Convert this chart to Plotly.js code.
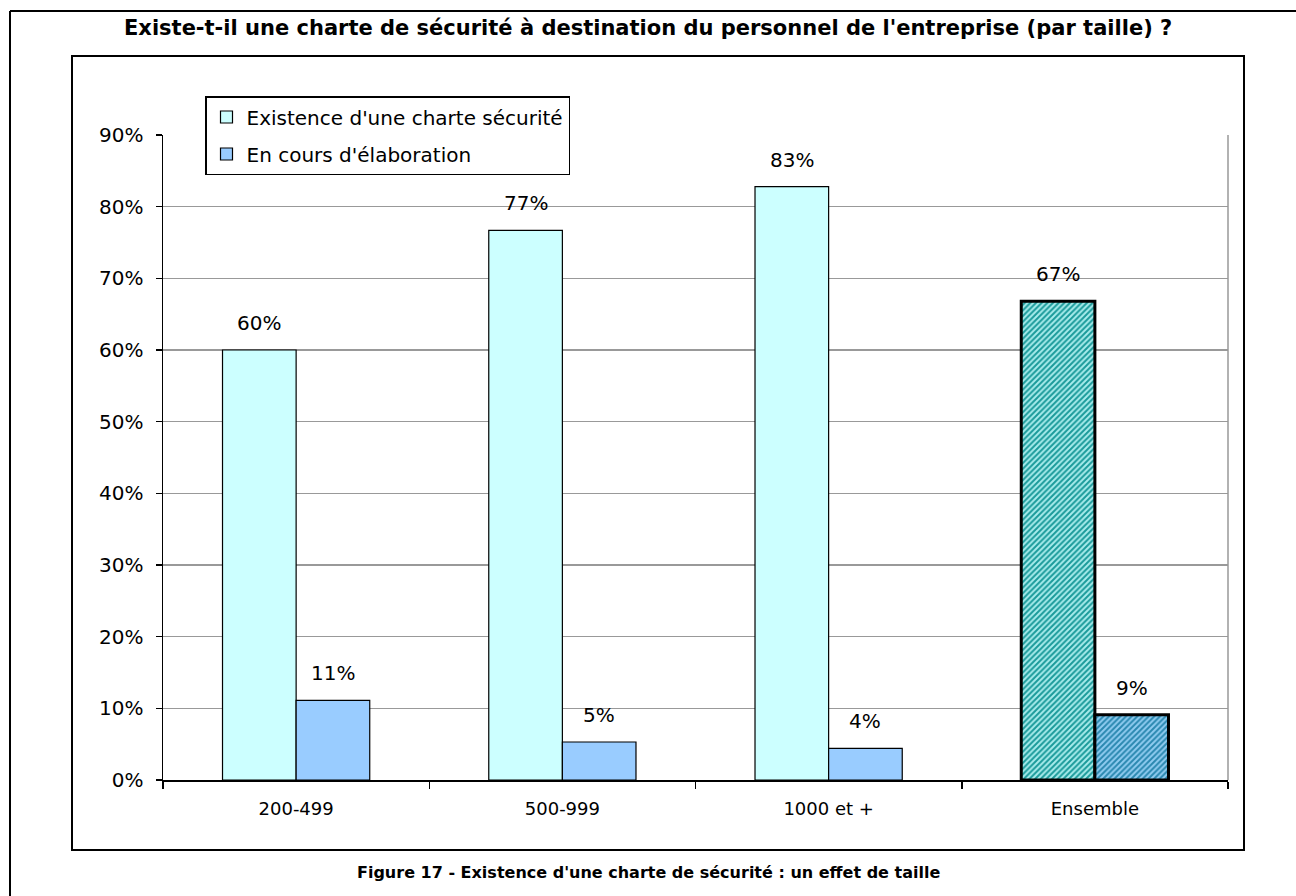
<!DOCTYPE html>
<html>
<head>
<meta charset="utf-8">
<script src="https://cdn.plot.ly/plotly-3.0.1.min.js"></script>
<style>html,body{margin:0;padding:0;background:#fff;}#chart{width:1296px;height:896px;}</style>
</head>
<body>
<div id="chart"></div>
<script>
const categories = ['200-499', '500-999', '1000 et +', 'Ensemble'];
const seriesNames = ["Existence d'une charte sécurité", "En cours d'élaboration"];
const existence = [60, 76.7, 82.8, 66.8];
const elaboration = [11.1, 5.3, 4.4, 9.1];
const existenceLabels = ['60%', '77%', '83%', '67%'];
const elaborationLabels = ['11%', '5%', '4%', '9%'];
const yTicks = [0, 10, 20, 30, 40, 50, 60, 70, 80, 90];
const titleText = "Existe-t-il une charte de sécurité à destination du personnel de l'entreprise (par taille) ?";
const captionText = "Figure 17 - Existence d'une charte de sécurité : un effet de taille";

const FONT = 'DejaVu Sans, Verdana, sans-serif';
const W = 1296, H = 896;
const L = 163, R = 1228, T = 135, B = 780;
const px = x => (x - L) / (R - L);
const py = y => (B - y) / (B - T);

const lastIdx = categories.length - 1;
function perPoint(normal, last) { return categories.map((c, i) => i === lastIdx ? last : normal); }

const trace1 = {
  type: 'bar', name: seriesNames[0], x: categories, y: existence, legendgroup: 'a',
  marker: {
    color: '#ccffff',
    line: { color: '#000', width: perPoint(1.2, 3) },
    pattern: { shape: perPoint('', '/'), fgcolor: '#1a9a9a', bgcolor: '#a8ecec', size: 4, solidity: 0.5 }
  },
  hoverinfo: 'none'
};
const trace2 = {
  type: 'bar', name: seriesNames[1], x: categories, y: elaboration, legendgroup: 'b',
  marker: {
    color: '#99ccff',
    line: { color: '#000', width: perPoint(1.2, 3) },
    pattern: { shape: perPoint('', '/'), fgcolor: '#2a88b0', bgcolor: '#90ccf0', size: 4, solidity: 0.5 }
  },
  hoverinfo: 'none'
};

const barPx = 73.5;
const annotations = [];
categories.forEach((c, i) => {
  annotations.push({ x: c, y: existence[i], xref: 'x', yref: 'y', text: existenceLabels[i], showarrow: false,
    xshift: -barPx / 2, yshift: 13, yanchor: 'bottom', font: { family: FONT, size: 20, color: '#000' } });
  annotations.push({ x: c, y: elaboration[i], xref: 'x', yref: 'y', text: elaborationLabels[i], showarrow: false,
    xshift: barPx / 2, yshift: 13, yanchor: 'bottom', font: { family: FONT, size: 20, color: '#000' } });
});
annotations.push({ x: px(648), y: py(28), xref: 'paper', yref: 'paper', text: '<b>' + titleText + '</b>', showarrow: false,
  xanchor: 'center', yanchor: 'middle', font: { family: FONT, size: 21, color: '#000' } });
annotations.push({ x: px(648), y: py(872), xref: 'paper', yref: 'paper', text: '<b>' + captionText + '</b>', showarrow: false,
  xanchor: 'center', yanchor: 'middle', font: { family: FONT, size: 16, color: '#000' } });

const shapes = [
  { type: 'line', xref: 'paper', yref: 'paper', x0: px(10), x1: px(1300), y0: py(11), y1: py(11), line: { color: '#000', width: 2 } },
  { type: 'line', xref: 'paper', yref: 'paper', x0: px(10), x1: px(10), y0: py(11), y1: py(900), line: { color: '#000', width: 2 } },
  { type: 'rect', xref: 'paper', yref: 'paper', x0: px(72), x1: px(1244), y0: py(56), y1: py(850), line: { color: '#000', width: 2 }, layer: 'below' },
  { type: 'line', xref: 'paper', yref: 'paper', x0: 1, x1: 1, y0: 0, y1: 1, line: { color: '#999', width: 1.5 } }
];

const layout = {
  width: W, height: H,
  margin: { l: L, r: W - R, t: T, b: H - B, pad: 0 },
  paper_bgcolor: '#fff', plot_bgcolor: '#fff',
  font: { family: FONT, size: 20, color: '#000' },
  barmode: 'group', bargap: 0.447, bargroupgap: 0,
  showlegend: true,
  legend: {
    x: px(205), y: py(96), xanchor: 'left', yanchor: 'top',
    bgcolor: '#fff', bordercolor: '#000', borderwidth: 1.5,
    font: { family: FONT, size: 20, color: '#000' },
    itemwidth: 30, traceorder: 'grouped', tracegroupgap: 8
  },
  xaxis: {
    type: 'category', showgrid: false, showline: true, linecolor: '#000', linewidth: 1.5,
    ticks: 'outside', tickson: 'boundaries', ticklen: 7, tickcolor: '#000', tickwidth: 1.5,
    ticklabelstandoff: 12,
    tickfont: { family: FONT, size: 18, color: '#000' }, fixedrange: true
  },
  yaxis: {
    range: [0, 90], tickvals: yTicks, ticktext: yTicks.map(v => v + '%'),
    showgrid: true, gridcolor: '#999', gridwidth: 1.5,
    showline: true, linecolor: '#000', linewidth: 1.5, zeroline: false,
    ticks: 'outside', ticklen: 6, tickcolor: '#000', tickwidth: 1.5,
    ticklabelstandoff: 8,
    tickfont: { family: FONT, size: 20, color: '#000' }, fixedrange: true
  },
  annotations: annotations,
  shapes: shapes
};

Plotly.newPlot('chart', [trace1, trace2], layout, { displayModeBar: false, staticPlot: true });
</script>
</body>
</html>
